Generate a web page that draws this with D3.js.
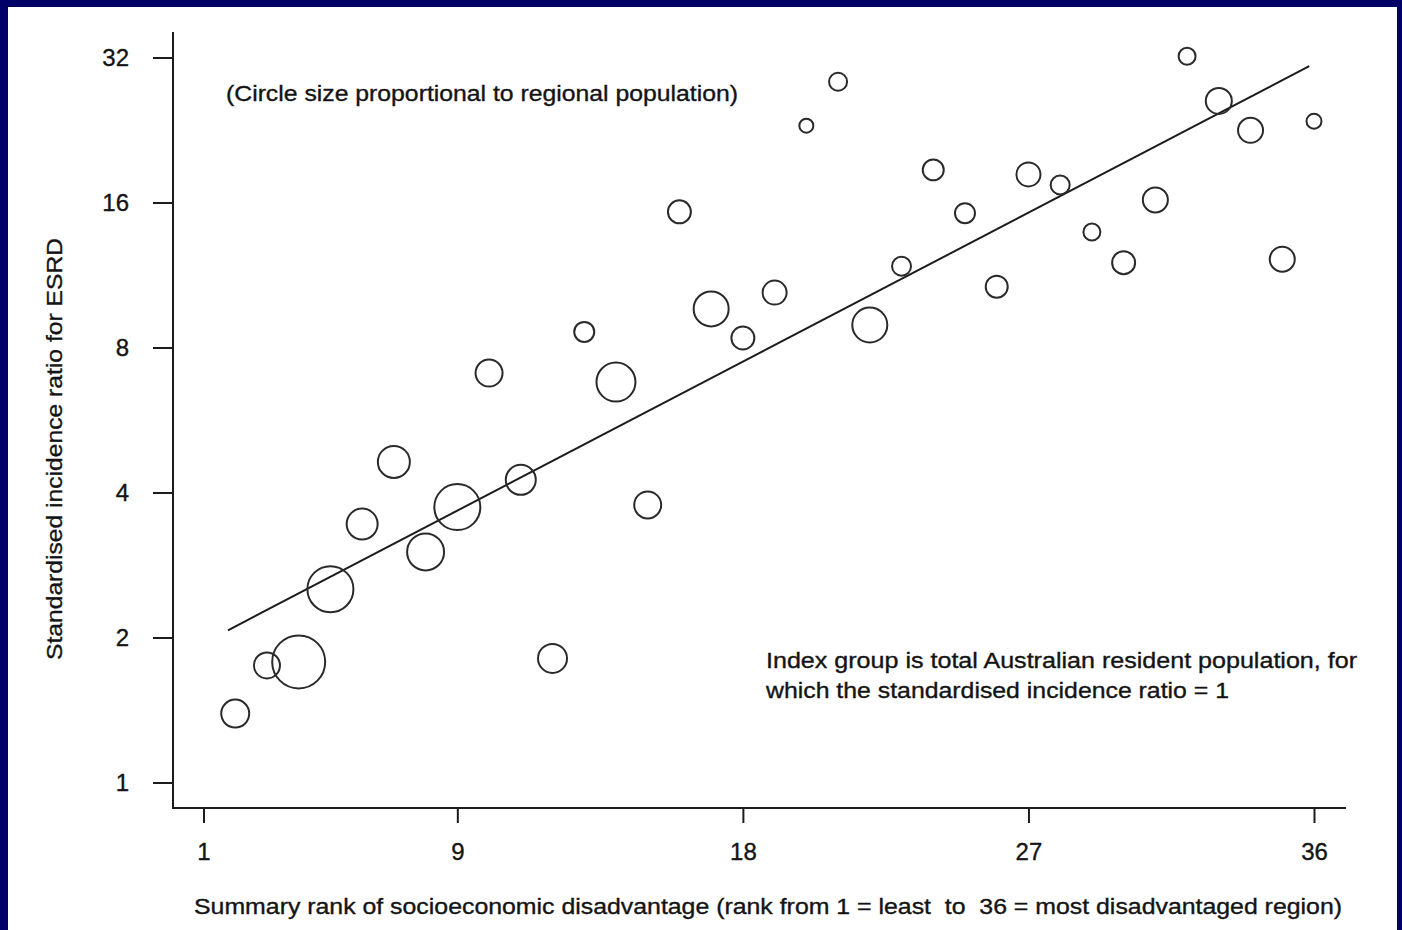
<!DOCTYPE html>
<html>
<head>
<meta charset="utf-8">
<script src="https://cdn.jsdelivr.net/npm/d3@7"></script>
<style>
  html, body { margin: 0; padding: 0; background: #000066; }
  svg { display: block; }
  text { font-family: "Liberation Sans", Arial, Helvetica, sans-serif; fill: #141414; stroke: #141414; stroke-width: 0.35px; }
</style>
</head>
<body>
<svg id="chart" width="1402" height="930"></svg>
<script>
// ---- Data ----
const ranks = [2,3,4,5,6,7,8,9,10,11,12,13,14,15,16,17,18,19,20,21,22,23,24,25,26,27,28,29,30,31,32,33,34,35,36];
const sirValues = [1.39,1.75,1.78,2.52,3.44,4.63,3.01,3.73,7.08,4.25,1.81,8.62,6.78,3.77,15.3,9.62,8.37,10.4,23.1,28.5,8.91,11.8,18.7,15.2,10.7,18.3,17.4,13.9,12.0,16.2,32.2,26.0,22.6,12.2,23.6];
// relative regional population (thousands, estimated from circle areas)
const populations = [196,169,702,529,240,256,342,529,182,225,210,100,380,182,132,306,132,144,49,81,306,90,110,100,121,144,90,72,132,156,72,169,156,156,56];
const xTicks = [1, 9, 18, 27, 36];
const yTicks = [1, 2, 4, 8, 16, 32];
// fitted regression line end points (rank, ratio)
const fitRanks = [1.77, 35.85];
const fitRatios = [2.07, 30.7];

const yTitle = "Standardised incidence ratio for ESRD";
const xTitle = "Summary rank of socioeconomic disadvantage (rank from 1 = least  to  36 = most disadvantaged region)";
const note1 = "(Circle size proportional to regional population)";
const note2 = ["Index group is total Australian resident population, for", "which the standardised incidence ratio = 1"];

// ---- Drawing ----
const svg = d3.select("#chart");
svg.append("rect").attr("x", 0).attr("y", 0).attr("width", 1402).attr("height", 930).attr("fill", "#000066");
svg.append("rect").attr("x", 8).attr("y", 7).attr("width", 1389).attr("height", 923).attr("fill", "#ffffff");

const x = d3.scaleLinear().domain([1, 36]).range([203.5, 1314]);
const y = d3.scaleLog().base(2).domain([1, 32]).range([782.5, 57.5]);
const r = d3.scaleSqrt().domain([0, d3.max(populations)]).range([0, 26.5]);

const axisColor = "#1c1c1c";

// Y axis
const yAxisG = svg.append("g").attr("transform", "translate(173,0)")
  .call(d3.axisLeft(y).tickValues(yTicks).tickFormat(d3.format("d")).tickSize(20).tickPadding(24));
yAxisG.select(".domain").remove();
yAxisG.append("line").attr("x1", 0).attr("x2", 0).attr("y1", 32).attr("y2", 809)
  .attr("stroke", axisColor).attr("stroke-width", 2);
yAxisG.selectAll(".tick line").attr("stroke", axisColor).attr("stroke-width", 2);
yAxisG.selectAll(".tick text").attr("font-size", 24).attr("fill", "#141414")
  .style("font-family", '"Liberation Sans", Arial, sans-serif');

// X axis
const xAxisG = svg.append("g").attr("transform", "translate(0,808)")
  .call(d3.axisBottom(x).tickValues(xTicks).tickFormat(d3.format("d")).tickSize(15).tickPadding(20));
xAxisG.select(".domain").remove();
xAxisG.append("line").attr("x1", 172).attr("x2", 1346).attr("y1", 0).attr("y2", 0)
  .attr("stroke", axisColor).attr("stroke-width", 2);
xAxisG.selectAll(".tick line").attr("stroke", axisColor).attr("stroke-width", 2);
xAxisG.selectAll(".tick text").attr("font-size", 24).attr("fill", "#141414")
  .style("font-family", '"Liberation Sans", Arial, sans-serif');

// Regression line
svg.append("line")
  .attr("x1", x(fitRanks[0])).attr("y1", y(fitRatios[0]))
  .attr("x2", x(fitRanks[1])).attr("y2", y(fitRatios[1]))
  .attr("stroke", "#1c1c1c").attr("stroke-width", 2);

// Bubbles
const pts = ranks.map((rk, i) => ({rank: rk, sir: sirValues[i], pop: populations[i]}));
svg.append("g").selectAll("circle").data(pts).join("circle")
  .attr("cx", d => x(d.rank))
  .attr("cy", d => y(d.sir))
  .attr("r", d => r(d.pop))
  .attr("fill", "none")
  .attr("stroke", "#2a2a2a")
  .attr("stroke-width", 2);

// Axis titles
svg.append("text")
  .attr("transform", "translate(62,449) rotate(-90)")
  .attr("text-anchor", "middle")
  .attr("font-size", 22)
  .attr("textLength", 422).attr("lengthAdjust", "spacingAndGlyphs")
  .text(yTitle);

svg.append("text")
  .attr("x", 194).attr("y", 914)
  .attr("font-size", 22)
  .attr("textLength", 1148).attr("lengthAdjust", "spacingAndGlyphs")
  .style("white-space", "pre")
  .attr("xml:space", "preserve")
  .text(xTitle);

// Notes
svg.append("text")
  .attr("x", 226).attr("y", 101)
  .attr("font-size", 22)
  .attr("textLength", 512).attr("lengthAdjust", "spacingAndGlyphs")
  .text(note1);

svg.append("text")
  .attr("x", 766).attr("y", 668)
  .attr("font-size", 22)
  .attr("textLength", 591).attr("lengthAdjust", "spacingAndGlyphs")
  .text(note2[0]);
svg.append("text")
  .attr("x", 766).attr("y", 698)
  .attr("font-size", 22)
  .attr("textLength", 463).attr("lengthAdjust", "spacingAndGlyphs")
  .text(note2[1]);
</script>
</body>
</html>
